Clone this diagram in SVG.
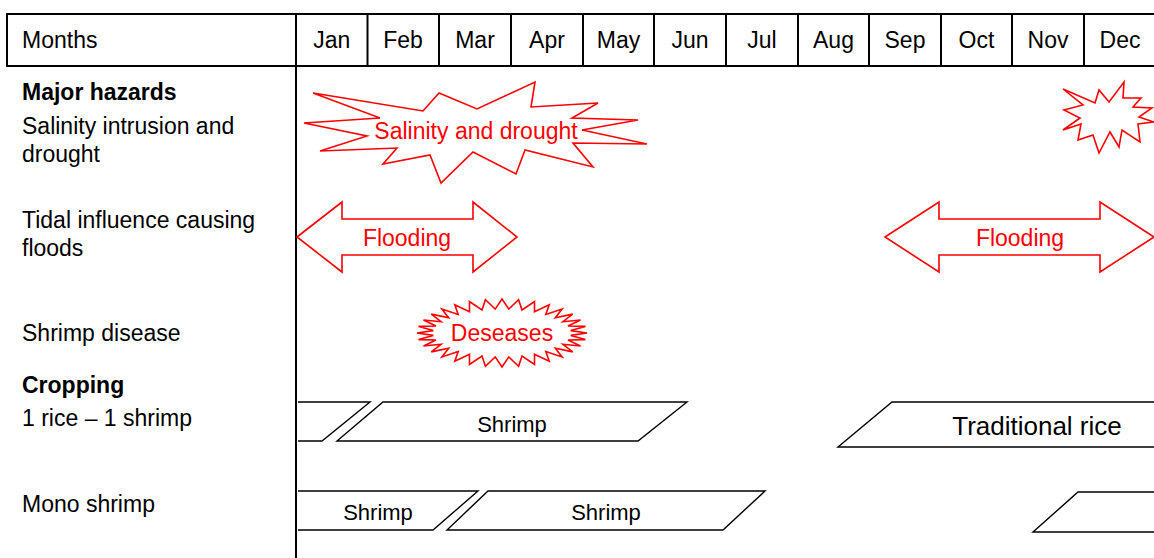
<svg xmlns="http://www.w3.org/2000/svg" width="1154" height="558" viewBox="0 0 1154 558">
  <style>
    text { font-family: "Liberation Sans", Arial, sans-serif; font-size: 23px; fill: #000; }
    .c { text-anchor: middle; }
    .b { font-weight: bold; }
    .red { fill: #ff0000; }
    .grid { stroke: #000; stroke-width: 2; fill: none; }
    .hz { stroke: #ff0000; stroke-width: 1.6; fill: #fff; stroke-linejoin: miter; }
    .crop { stroke: #000; stroke-width: 1.4; fill: #fff; }
  </style>
  <rect width="1154" height="558" fill="#fff"/>

  <!-- table grid -->
  <g id="table" class="grid">
    <line x1="7" y1="14" x2="1154" y2="14"/>
    <line x1="7" y1="66" x2="1154" y2="66"/>
    <line x1="7" y1="13" x2="7" y2="67"/>
    <line x1="296" y1="13" x2="296" y2="558"/>
    <line x1="367.5" y1="14" x2="367.5" y2="66"/>
    <line x1="439" y1="14" x2="439" y2="66"/>
    <line x1="511" y1="14" x2="511" y2="66"/>
    <line x1="583" y1="14" x2="583" y2="66"/>
    <line x1="654" y1="14" x2="654" y2="66"/>
    <line x1="726" y1="14" x2="726" y2="66"/>
    <line x1="798" y1="14" x2="798" y2="66"/>
    <line x1="869" y1="14" x2="869" y2="66"/>
    <line x1="941" y1="14" x2="941" y2="66"/>
    <line x1="1012" y1="14" x2="1012" y2="66"/>
    <line x1="1084" y1="14" x2="1084" y2="66"/>
  </g>

  <!-- header labels -->
  <g id="header">
    <text x="22" y="48">Months</text>
    <text class="c" x="331.7" y="48">Jan</text>
    <text class="c" x="403" y="48">Feb</text>
    <text class="c" x="475" y="48">Mar</text>
    <text class="c" x="547" y="48">Apr</text>
    <text class="c" x="618.5" y="48">May</text>
    <text class="c" x="690" y="48">Jun</text>
    <text class="c" x="762" y="48">Jul</text>
    <text class="c" x="833.5" y="48">Aug</text>
    <text class="c" x="905" y="48">Sep</text>
    <text class="c" x="976.5" y="48">Oct</text>
    <text class="c" x="1048" y="48">Nov</text>
    <text class="c" x="1120" y="48">Dec</text>
  </g>

  <!-- row labels -->
  <g id="row-labels">
    <text class="b" x="22" y="100">Major hazards</text>
    <text x="22" y="134">Salinity intrusion and</text>
    <text x="22" y="162">drought</text>
    <text x="22" y="228">Tidal influence causing</text>
    <text x="22" y="256">floods</text>
    <text x="22" y="341">Shrimp disease</text>
    <text class="b" x="22" y="393">Cropping</text>
    <text x="22" y="426">1 rice – 1 shrimp</text>
    <text x="22" y="512">Mono shrimp</text>
  </g>

  <!-- hazards -->
  <g id="salinity-drought">
    <polygon class="hz" points="313,93 423,111 439,93 477,109 535,82 531,107 598,103 572,118 638,120 582,130 647,144 573,143 593,167 525,150 516,174 473,152 441,183 430,155 383,164 397,148 320,151 367,136 304,123 380,118"/>
    <text class="c red" x="476" y="139">Salinity and drought</text>
  </g>
  <g id="salinity-drought-late">
    <polygon class="hz" points="1063,89 1095,103 1099,90 1109,102 1124,82 1123,98 1141,98 1133,107 1152,108 1139,117 1154,122 1138,124 1140,142 1122,130 1119,147 1110,132 1099,153 1093,135 1078,140 1081,124 1063,130 1080,118 1064,110 1083,105"/>
  </g>
  <g id="flooding-early">
    <polygon class="hz" points="297,237 342,202 342,219 473,219 473,202 517,237 473,272 473,255 342,255 342,272"/>
    <text class="c red" x="407" y="246">Flooding</text>
  </g>
  <g id="flooding-late">
    <polygon class="hz" points="885,237 939,202 939,219 1100,219 1100,202 1154,237 1100,272 1100,255 939,255 939,272"/>
    <text class="c red" x="1020" y="246">Flooding</text>
  </g>
  <g id="disease">
    <polygon class="hz" points="587,333 570.7,335.4 585.4,339.6 568,340 580.5,346 562.9,344.3 572.7,351.9 555.3,348.2 562.1,357 545.8,351.6 549.2,361.3 534.5,354.2 534.5,364.4 522,356 518.6,366.3 508.8,356.9 502,367 495.2,356.9 485.4,366.3 482,356 469.5,364.4 469.5,354.2 454.8,361.3 458.2,351.6 441.9,357 448.7,348.2 431.3,351.9 441.1,344.3 423.5,346 436,340 418.6,339.6 433.3,335.4 417,333 433.3,330.6 418.6,326.4 436,326 423.5,320 441.1,321.7 431.3,314.1 448.7,317.8 441.9,309 458.2,314.4 454.8,304.7 469.5,311.8 469.5,301.6 482,310 485.4,299.7 495.2,309.1 502,299 508.8,309.1 518.6,299.7 522,310 534.5,301.6 534.5,311.8 549.2,304.7 545.8,314.4 562.1,309 555.3,317.8 572.7,314.1 562.9,321.7 580.5,320 568,326 585.4,326.4 570.7,330.6"/>
    <text class="c red" x="502" y="341">Deseases</text>
  </g>

  <!-- cropping: 1 rice - 1 shrimp -->
  <g id="rs-shrimp-carry">
    <polyline class="crop" points="298,402 370,402 322,441 298,441"/>
  </g>
  <g id="rs-shrimp">
    <polygon class="crop" points="383,402 687,402 638,441 337,441"/>
    <text class="c" x="512" y="432" style="font-size:22px">Shrimp</text>
  </g>
  <g id="rs-rice">
    <polyline class="crop" points="1155,402 892,402 838,447 1155,447"/>
    <text class="c" x="1037" y="435" style="font-size:26px">Traditional rice</text>
  </g>

  <!-- cropping: mono shrimp -->
  <g id="mono-shrimp-1">
    <polyline class="crop" points="298,491 478,491 433,530 298,530"/>
    <text class="c" x="378" y="520" style="font-size:22px">Shrimp</text>
  </g>
  <g id="mono-shrimp-2">
    <polygon class="crop" points="488,491 765,491 723,530 447,530"/>
    <text class="c" x="606" y="520" style="font-size:22px">Shrimp</text>
  </g>
  <g id="mono-shrimp-3">
    <polyline class="crop" points="1155,492 1078,492 1033,532 1155,532"/>
  </g>
</svg>
